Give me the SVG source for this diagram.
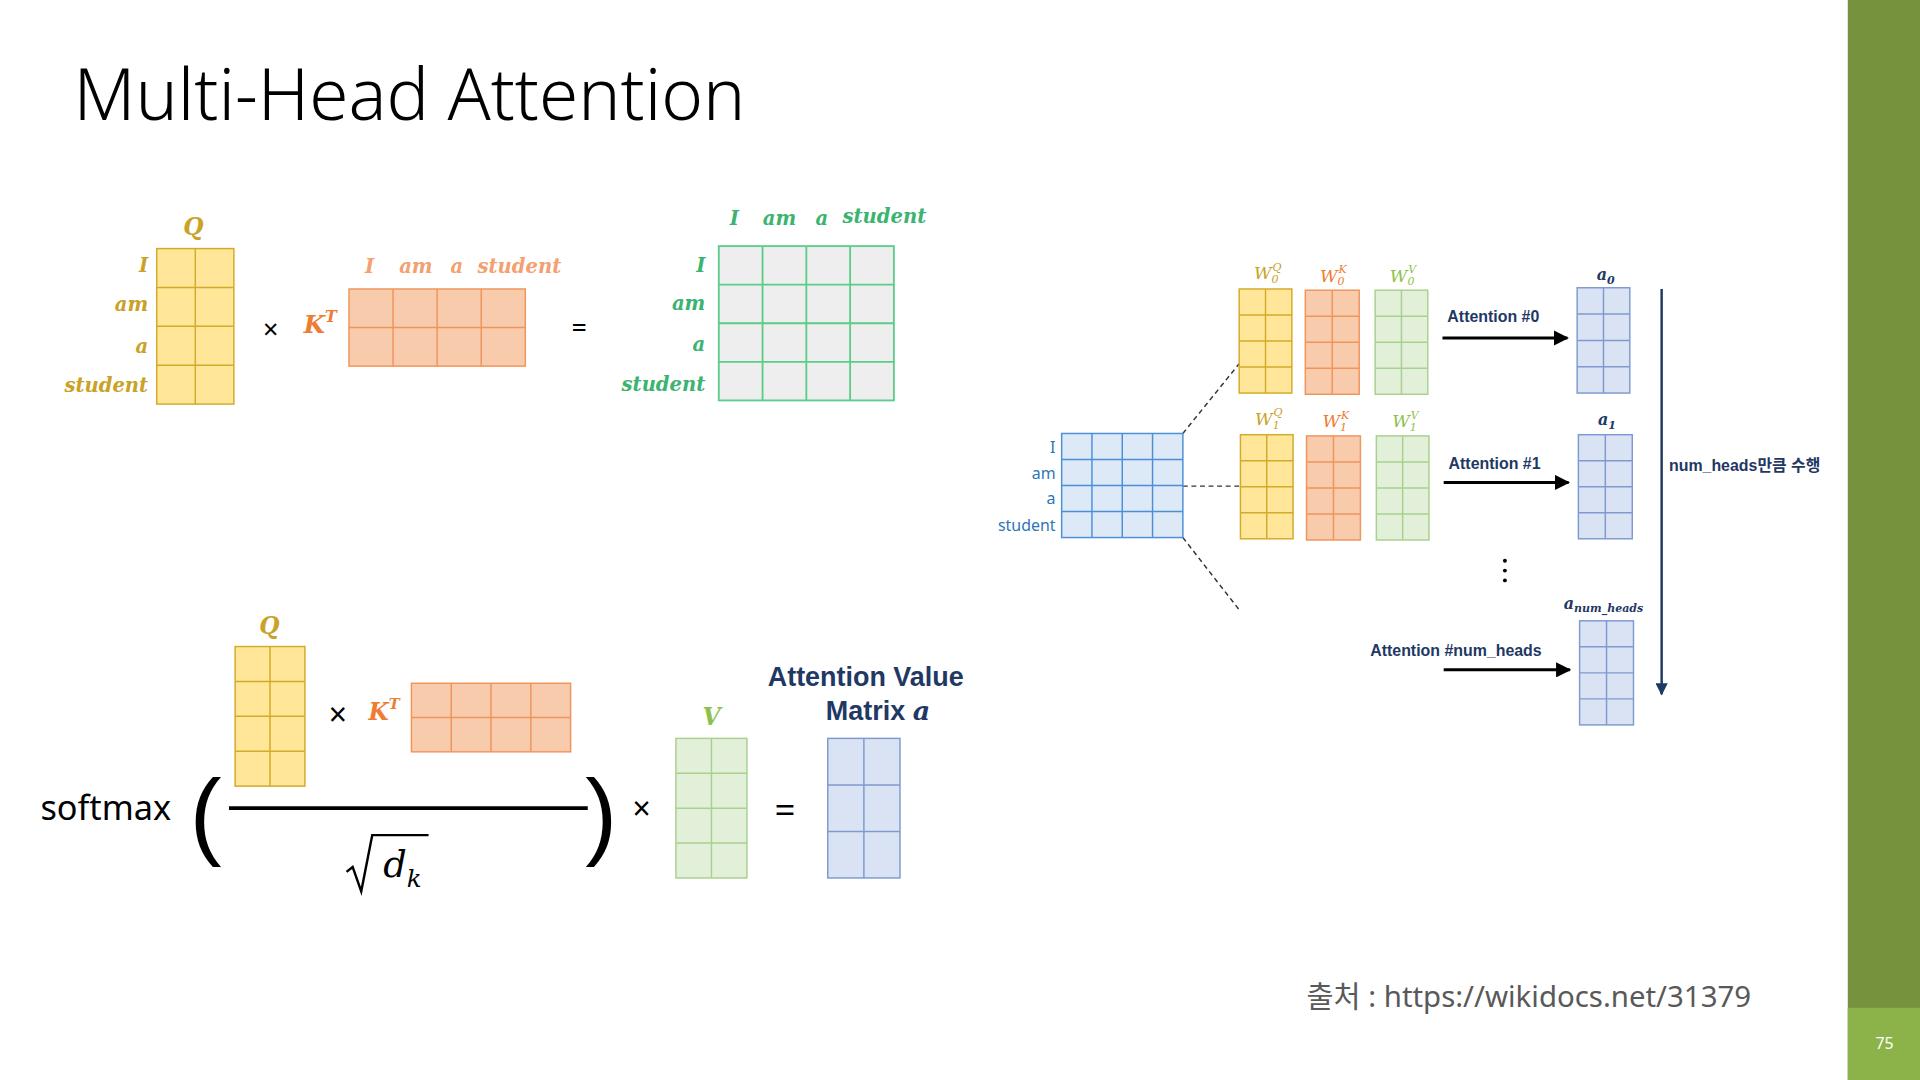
<svg xmlns="http://www.w3.org/2000/svg" width="1920" height="1080" viewBox="0 0 1920 1080">
<defs>
<style>
.y{fill:#ffe699;stroke:#d4aa2a;stroke-width:1.2}
.o{fill:#f8cbad;stroke:#f0955a;stroke-width:1.2}
.g{fill:#eeeeee;stroke:#5ccc8a;stroke-width:1.5}
.v{fill:#e2efd9;stroke:#a9d18e;stroke-width:1.2}
.b{fill:#dae3f3;stroke:#7f9ad0;stroke-width:1.2}
.lb{fill:#dde9f6;stroke:#4a90d9;stroke-width:1.2}
.it{font-family:"DejaVu Serif",serif;font-style:italic;font-weight:bold}
.sans{font-family:"Noto Sans","Noto Sans CJK KR",sans-serif}
.nb{font-family:"Liberation Sans","Noto Sans CJK KR",sans-serif;font-weight:bold;fill:#1f3864}
.dash{stroke:#333;stroke-width:1.2;stroke-dasharray:4 3;fill:none}
</style>
<marker id="ah" viewBox="0 0 10 10" refX="9" refY="5" markerWidth="5" markerHeight="5" orient="auto"><path d="M0,0L10,5L0,10z" fill="#000"/></marker>
<marker id="ahn" viewBox="0 0 10 10" refX="9" refY="5" markerWidth="5" markerHeight="5" orient="auto"><path d="M0,0L10,5L0,10z" fill="#1f3864"/></marker>
</defs>
<rect width="1920" height="1080" fill="#fff"/>
<g transform="scale(1.2245)">
<rect x="1509" y="0" width="59" height="882" fill="#76923c"/>
<rect x="1509" y="823" width="59" height="59" fill="#8cb24a"/>
<text x="1539" y="857" font-size="13" fill="#fff" text-anchor="middle" class="sans">75</text>
<text x="60" y="98" font-size="58" font-weight="300" fill="#000" class="sans">Multi-Head Attention</text>
<text x="1067" y="822" font-size="24" fill="#595959" class="sans">출처 : https://wikidocs.net/31379</text>

<g id="top-q">
<rect x="128" y="203" width="63" height="127" class="y"/>
<path d="M159.5 203V330M128 234.75H191M128 266.5H191M128 298.25H191" class="y" fill="none"/>
<text x="158" y="192" font-size="19" class="it" fill="#c9a227" text-anchor="middle">Q</text>
<g class="it" font-size="16" fill="#c9a227" text-anchor="end"><text x="121" y="222">I</text><text x="121" y="254">am</text><text x="121" y="288">a</text><text x="121" y="320">student</text></g>
</g>
<text x="221" y="277" font-size="22" class="sans" text-anchor="middle">×</text>
<g id="top-kt">
<text x="248" y="272" font-size="20" class="it" fill="#ed7d31">K<tspan font-size="13" dy="-9">T</tspan></text>
<rect x="285" y="236" width="144" height="63" class="o"/>
<path d="M321 236V299M357 236V299M393 236V299M285 267.5H429" class="o" fill="none"/>
<g class="it" font-size="16" fill="#f4a070"><text x="298" y="223">I</text><text x="326" y="223">am</text><text x="368" y="223">a</text><text x="390" y="223">student</text></g>
</g>
<text x="473" y="275" font-size="22" class="sans" text-anchor="middle">=</text>
<g id="top-result">
<rect x="587" y="201" width="143" height="126" class="g"/>
<path d="M622.75 201V327M658.5 201V327M694.25 201V327M587 232.5H730M587 264H730M587 295.5H730" class="g" fill="none"/>
<g class="it" font-size="16" fill="#3cb371" text-anchor="end"><text x="576" y="222">I</text><text x="576" y="253">am</text><text x="576" y="287">a</text><text x="576" y="319">student</text></g>
<g class="it" font-size="16" fill="#3cb371"><text x="596" y="184">I</text><text x="623" y="184">am</text><text x="666" y="184">a</text><text x="688" y="182">student</text></g>
</g>

<g id="bottom-formula">
<text x="33" y="670" font-size="28" class="sans">softmax</text>
<text x="155" y="692" font-size="78" font-family="Liberation Sans,sans-serif" font-weight="300">(</text>
<text x="478" y="692" font-size="78" font-family="Liberation Sans,sans-serif" font-weight="300">)</text>
<rect x="192" y="528" width="57" height="114" class="y"/>
<path d="M220.5 528V642M192 556.5H249M192 585H249M192 613.5H249" class="y" fill="none"/>
<text x="220" y="518" font-size="19" class="it" fill="#c9a227" text-anchor="middle">Q</text>
<text x="276" y="593" font-size="26" class="sans" text-anchor="middle">×</text>
<text x="301" y="588" font-size="19" class="it" fill="#ed7d31">K<tspan font-size="12" dy="-9">T</tspan></text>
<rect x="336" y="558" width="130" height="56" class="o"/>
<path d="M368.5 558V614M401 558V614M433.5 558V614M336 586H466" class="o" fill="none"/>
<line x1="187" y1="660" x2="480" y2="660" stroke="#000" stroke-width="3"/>
<path d="M283 712L288 708L295 728L304 682H350" stroke="#000" stroke-width="2" fill="none"/>
<text x="313" y="716" font-size="30" font-family="DejaVu Serif,serif" font-style="italic">d<tspan font-size="20" dy="8">k</tspan></text>
<text x="524" y="670" font-size="26" class="sans" text-anchor="middle">×</text>
<text x="581" y="592" font-size="19" class="it" fill="#8bc34a" text-anchor="middle">V</text>
<rect x="552" y="603" width="58" height="114" class="v"/>
<path d="M581 603V717M552 631.5H610M552 660H610M552 688.5H610" class="v" fill="none"/>
<text x="641" y="672" font-size="30" class="sans" text-anchor="middle">=</text>
<text x="707" y="560" font-size="22" class="nb" text-anchor="middle">Attention Value</text>
<text x="717" y="588" font-size="22" class="nb" text-anchor="middle">Matrix <tspan class="it">a</tspan></text>
<rect x="676" y="603" width="59" height="114" class="b"/>
<path d="M705.5 603V717M676 641H735M676 679H735" class="b" fill="none"/>
</g>

<g id="connectors">
<path d="M966 354L1012 297M966 397H1012M966 439L1012 498" class="dash"/>
<line x1="1178" y1="276" x2="1280" y2="276" stroke="#000" stroke-width="2.5" marker-end="url(#ah)"/>
<line x1="1179" y1="394" x2="1281" y2="394" stroke="#000" stroke-width="2.5" marker-end="url(#ah)"/>
<line x1="1179" y1="547" x2="1282" y2="547" stroke="#000" stroke-width="2.5" marker-end="url(#ah)"/>
<line x1="1357" y1="236" x2="1357" y2="567" stroke="#1f3864" stroke-width="2" marker-end="url(#ahn)"/>
</g>

<g id="input">
<rect x="867" y="354" width="99" height="85" class="lb"/>
<path d="M891.75 354V439M916.5 354V439M941.25 354V439M867 375.25H966M867 396.5H966M867 417.75H966" class="lb" fill="none"/>
<g class="sans" font-size="13" fill="#2e75b6" text-anchor="end"><text x="862" y="370">I</text><text x="862" y="391">am</text><text x="862" y="412">a</text><text x="862" y="434">student</text></g>
</g>
<g id="head0">
<rect x="1012" y="236" width="43" height="85" class="y"/><path d="M1033.5 236V321M1012 257.25H1055M1012 278.5H1055M1012 299.75H1055" class="y" fill="none"/>
<rect x="1066" y="237" width="44" height="85" class="o"/><path d="M1088 237V322M1066 258.25H1110M1066 279.5H1110M1066 300.75H1110" class="o" fill="none"/>
<rect x="1123" y="237" width="43" height="85" class="v"/><path d="M1144.5 237V322M1123 258.25H1166M1123 279.5H1166M1123 300.75H1166" class="v" fill="none"/>
<g font-size="14" font-family="DejaVu Serif,serif" font-style="italic">
<text x="1024" y="228" fill="#c9a227">W<tspan font-size="9" dy="3">0</tspan><tspan font-size="9" dx="-5" dy="-10">Q</tspan></text>
<text x="1078" y="230" fill="#ed7d31">W<tspan font-size="9" dy="3">0</tspan><tspan font-size="9" dx="-5" dy="-10">K</tspan></text>
<text x="1135" y="230" fill="#8bc34a">W<tspan font-size="9" dy="3">0</tspan><tspan font-size="9" dx="-5" dy="-10">V</tspan></text>
</g>
<text x="1182" y="263" font-size="13" class="nb">Attention #0</text>
<rect x="1288" y="235" width="43" height="86" class="b"/><path d="M1309.5 235V321M1288 256.5H1331M1288 278H1331M1288 299.5H1331" class="b" fill="none"/>
<text x="1304" y="229" font-size="13" class="it" fill="#1f3864">a<tspan font-size="9" dy="3">0</tspan></text>
</g>
<g id="head1">
<rect x="1013" y="355" width="43" height="85" class="y"/><path d="M1034.5 355V440M1013 376.25H1056M1013 397.5H1056M1013 418.75H1056" class="y" fill="none"/>
<rect x="1067" y="356" width="44" height="85" class="o"/><path d="M1089 356V441M1067 377.25H1111M1067 398.5H1111M1067 419.75H1111" class="o" fill="none"/>
<rect x="1124" y="356" width="43" height="85" class="v"/><path d="M1145.5 356V441M1124 377.25H1167M1124 398.5H1167M1124 419.75H1167" class="v" fill="none"/>
<g font-size="14" font-family="DejaVu Serif,serif" font-style="italic">
<text x="1025" y="347" fill="#c9a227">W<tspan font-size="9" dy="3">1</tspan><tspan font-size="9" dx="-5" dy="-10">Q</tspan></text>
<text x="1080" y="349" fill="#ed7d31">W<tspan font-size="9" dy="3">1</tspan><tspan font-size="9" dx="-5" dy="-10">K</tspan></text>
<text x="1137" y="349" fill="#8bc34a">W<tspan font-size="9" dy="3">1</tspan><tspan font-size="9" dx="-5" dy="-10">V</tspan></text>
</g>
<text x="1183" y="383" font-size="13" class="nb">Attention #1</text>
<rect x="1289" y="355" width="44" height="85" class="b"/><path d="M1311 355V440M1289 376.25H1333M1289 397.5H1333M1289 418.75H1333" class="b" fill="none"/>
<text x="1305" y="347" font-size="13" class="it" fill="#1f3864">a<tspan font-size="9" dy="3">1</tspan></text>
</g>
<g id="dots" fill="#000"><circle cx="1229" cy="458" r="1.6"/><circle cx="1229" cy="466" r="1.6"/><circle cx="1229" cy="474" r="1.6"/></g>
<g id="head-n">
<text x="1119" y="536" font-size="13" class="nb">Attention #num_heads</text>
<rect x="1290" y="507" width="44" height="85" class="b"/><path d="M1312 507V592M1290 528.25H1334M1290 549.5H1334M1290 570.75H1334" class="b" fill="none"/>
<text x="1277" y="497" font-size="13" class="it" fill="#1f3864">a<tspan font-size="9" dy="3">num_heads</tspan></text>
</g>
<text x="1363" y="385" font-size="13" class="nb">num_heads만큼 수행</text>
</g>
</svg>
